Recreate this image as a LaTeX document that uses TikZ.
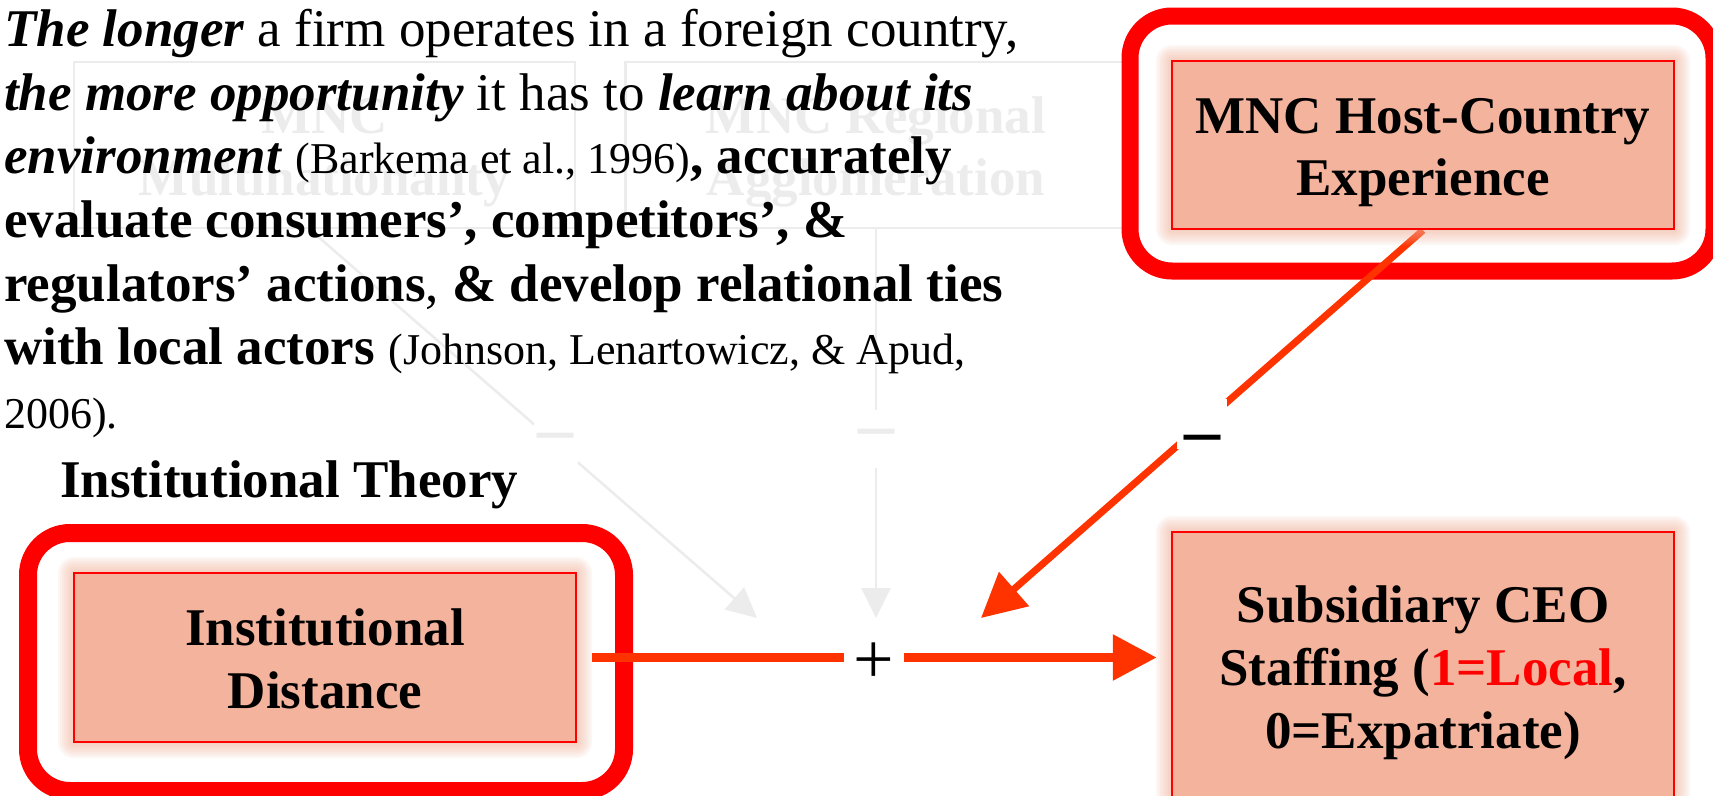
\documentclass[tikz,border=0pt]{standalone}
\usepackage{fontspec}
\setmainfont{Liberation Serif}
\usetikzlibrary{arrows.meta}
\definecolor{salmon}{RGB}{243,179,156}
\definecolor{boxred}{RGB}{255,0,0}
\definecolor{arrowred}{RGB}{255,51,0}
\definecolor{ghost}{RGB}{236,236,236}
\newcommand\bigtxt{\fontsize{53}{63}\selectfont}
\newcommand\citetxt{\fontsize{44}{63}\selectfont}
\newcommand\signtxt{\fontsize{72}{72}\selectfont}
\newcommand\glowbox[4]{\foreach \gl in {2,4,...,16}{\fill[salmon,opacity=0.1,rounded corners=\gl pt] (#1-\gl,#2-\gl) rectangle (#3+\gl,#4+\gl);}}
\pgfdeclarelayer{lzero}
\pgfdeclarelayer{lone}
\pgfdeclarelayer{ltwo}
\pgfsetlayers{lzero,lone,ltwo,main}
\begin{document}
\begin{tikzpicture}[x=1pt,y=-1pt,
 inbox/.style={draw=boxred,line width=2.5pt,fill=salmon,minimum width=502pt,inner sep=0pt},
 outbox/.style={draw=boxred,line width=17pt,rounded corners=42pt,inner sep=0pt},
 ghostbox/.style={draw=ghost,line width=2.5pt,minimum width=501pt,minimum height=166pt,inner sep=0pt},
 lbl/.style={anchor=base,font=\bigtxt\bfseries,inner sep=0pt},
 ghostlbl/.style={lbl,text=ghost},
 hline/.style={draw=arrowred,line width=9pt},
 dline/.style={draw=arrowred,line width=7pt},
 gline/.style={draw=ghost,line width=2.5pt},
 bigtip/.style={-{Triangle[length=44pt,width=44pt]}},
 smalltip/.style={-{Triangle[length=30pt,width=29pt]}},
 txtline/.style={anchor=base west,font=\bigtxt,inner sep=0pt},
 signlbl/.style={fill=white,inner sep=0pt,font=\signtxt\bfseries},
]
\useasboundingbox (0,0) rectangle (1713,795);
\clip (0,0) rectangle (1713,795);

% ghost layer and text
\begin{pgfonlayer}{lzero}
\fill[white] (0,0) rectangle (1713,795);
\node[ghostbox] (gb1) at (324.5,145) {};
\node[ghostbox] (gb2) at (876,145) {};
\node[ghostlbl] (gb1a) at (324.5,133) {MNC};
\node[ghostlbl] (gb1b) at (324.5,195) {Multinationality};
\node[ghostlbl] (gb2a) at (876,133) {MNC Regional};
\node[ghostlbl] (gb2b) at (876,195) {Agglomeration};
\coordinate (gt1) at (757,618);
\coordinate (gt2) at (876,618);
\draw[gline,smalltip] ([xshift=-15pt]gb1.south) -- (gt1)
  node[signlbl,pos=.55,minimum size=44pt,text=ghost] (gd1) {–};
\draw[gline,smalltip] (gb2.south) -- (gt2)
  node[signlbl,pos=.54,minimum width=40pt,minimum height=58pt,text=ghost] (gd2) {–};

\node[txtline] (l1) at (4,46) {\textbf{\textit{The longer}} a firm operates in a foreign country,};
\node[txtline] (l2) at (4,110) {\textbf{\textit{the more opportunity}} it has to \textbf{\textit{learn about its}}};
\node[txtline] (l3) at (4,173) {\textbf{\textit{environment}} {\citetxt(Barkema et al., 1996)}\textbf{, accurately}};
\node[txtline] (l4) at (4,237) {\textbf{evaluate consumers’, competitors’, \&}};
\node[txtline] (l5) at (4,301) {\textbf{regulators’ actions}, \textbf{\& develop relational ties}};
\node[txtline] (l6) at (4,364) {\textbf{with local actors} {\citetxt(Johnson, Lenartowicz, \& Apud,}};
\node[txtline] (l7) at (4,428) {\citetxt 2006).};
\node[txtline,font=\bigtxt\bfseries] (theory) at (60,497) {Institutional Theory};
\end{pgfonlayer}

% red rings
\begin{pgfonlayer}{lone}
\node[outbox,minimum width=584pt,minimum height=255pt] (hostring) at (1422,143.5) {};
\node[outbox,line width=18pt,minimum width=596pt,minimum height=258pt] (idring) at (326,662) {};
\end{pgfonlayer}

% boxes with glow
\glowbox{1172}{61}{1674}{229}
\node[inbox,minimum height=168pt] (host) at (1423,145) {};
\node[lbl] (host1) at (1423,133) {MNC Host-Country};
\node[lbl] (host2) at (1423,195) {Experience};

\glowbox{74}{573}{576}{742}
\node[inbox,minimum height=169pt] (idbox) at (325,657.5) {};
\node[lbl] (id1) at (325,645) {Institutional};
\node[lbl] (id2) at (325,708) {Distance};

\glowbox{1172}{532}{1674}{830}
\node[inbox,minimum height=298pt] (sub) at (1423,681) {};
\node[lbl] (sub1) at (1423,622) {Subsidiary CEO};
\node[lbl] (sub2) at (1423,685) {Staffing (\textcolor{boxred}{1=Local},};
\node[lbl] (sub3) at (1423,748) {0=Expatriate)};

% arrows
\begin{pgfonlayer}{ltwo}
\node[inner sep=0pt,minimum width=59pt,minimum height=40pt,font=\signtxt] (plus) at (874,663) {+};
\draw[hline] ([xshift=15pt]idbox.east) -- (idbox.east -| plus.west);
\draw[hline,bigtip,shorten >=14pt] (plus.east |- idbox.east) -- (idbox.east -| sub.west);
\coordinate (dtip) at (981,618);
\draw[dline,bigtip] (host.south) -- (dtip)
  node[fill=white,inner sep=0pt,pos=.5,minimum size=50pt] (gap) {};
\node[inner sep=0pt,font=\signtxt\bfseries] (neg) at (1202,445) {–};
\end{pgfonlayer}
\end{tikzpicture}
\end{document}
